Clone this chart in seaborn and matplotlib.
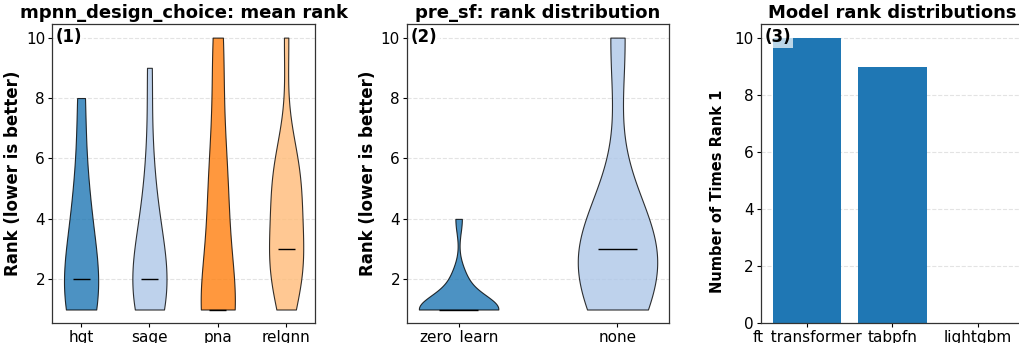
import numpy as np
import pandas as pd
import matplotlib
matplotlib.use("Agg")
import matplotlib.pyplot as plt
import seaborn as sns

# Per-task ranks for each message-passing design choice
mpnn_choices = ["hgt", "sage", "pna", "relgnn"]
ranks_hgt = [1, 1, 2, 2, 2, 4, 5, 8]
ranks_sage = [1, 1, 1, 2, 2, 2, 2, 3, 4, 4, 6, 9]
ranks_pna = [1, 1, 1, 1, 1, 1, 1, 1, 1, 1, 4, 5, 5, 5, 5, 7, 9, 10, 10]
ranks_relgnn = [1, 2, 2, 2, 3, 3, 3, 3, 5, 5, 5, 5, 6, 6, 10]

# Per-task ranks for the pre_sf option
pre_sf_choices = ["zero_learn", "none"]
ranks_zero_learn = [1, 1, 1, 1, 1, 1, 1, 1, 1, 1, 1, 1, 2, 2, 4]
ranks_none = [1, 2, 3, 3, 3, 3, 10]

# How often each tabular model ranked first
models = ["ft_transformer", "tabpfn", "lightgbm"]
rank1_counts = [10, 9, 0]

tab20 = sns.color_palette("tab20")

plt.rcParams.update({
    "font.family": ["DejaVu Sans"],
    "axes.edgecolor": "#333333",
    "axes.linewidth": 0.9,
})

fig = plt.figure(figsize=(10.2, 3.43), dpi=100)
ax1 = fig.add_axes([0.051, 0.058, 0.258, 0.872])
ax2 = fig.add_axes([0.399, 0.058, 0.257, 0.872])
ax3 = fig.add_axes([0.746, 0.058, 0.258, 0.872])

VIOLIN_W = 0.5
TAG_BOX = dict(facecolor="white", alpha=0.7, edgecolor="none", pad=1.5)


def style_axis(ax, ylabel, title, tag, ylabel_size=12):
    ax.set_xlabel("")
    ax.set_ylabel(ylabel, fontsize=ylabel_size, fontweight="bold", labelpad=3)
    ax.set_title(title, fontsize=13, fontweight="bold", pad=4)
    ax.tick_params(labelsize=11, length=3, width=0.8, pad=2)
    ax.yaxis.grid(True, linestyle="--", alpha=0.35)
    ax.set_axisbelow(True)
    ax.text(0.015, 0.985, tag, transform=ax.transAxes, ha="left", va="top",
            fontsize=12, fontweight="bold", bbox=TAG_BOX)


def long_table(names, groups):
    rows = []
    for n, g in zip(names, groups):
        rows += [(n, v) for v in g]
    return pd.DataFrame(rows, columns=["choice", "rank"])


def draw_violins(ax, names, groups, colors, title, tag):
    df = long_table(names, groups)
    sns.violinplot(data=df, x="choice", y="rank", hue="choice", order=names,
                   hue_order=names, palette=colors, legend=False, ax=ax,
                   cut=0, inner=None, density_norm="width", width=VIOLIN_W,
                   saturation=1, linecolor="black", linewidth=0.8, alpha=0.8)
    # short median bars, half the violin width
    med = df.groupby("choice")["rank"].median().reindex(names)
    pos = np.arange(len(names))
    ax.hlines(med.values, pos - VIOLIN_W / 4, pos + VIOLIN_W / 4,
              colors="black", linewidth=1.0, zorder=3)
    span = len(names) - 1 + VIOLIN_W
    pad = 0.05 * span
    ax.set_xlim(-VIOLIN_W / 2 - pad, len(names) - 1 + VIOLIN_W / 2 + pad)
    ax.set_yticks([2, 4, 6, 8, 10])
    style_axis(ax, "Rank (lower is better)", title, tag)


draw_violins(ax1, mpnn_choices,
             [ranks_hgt, ranks_sage, ranks_pna, ranks_relgnn],
             [tab20[0], tab20[1], tab20[2], tab20[3]],
             "mpnn_design_choice: mean rank", "(1)")
draw_violins(ax2, pre_sf_choices, [ranks_zero_learn, ranks_none],
             [tab20[0], tab20[1]], "pre_sf: rank distribution", "(2)")

# Bar chart of first-place counts
bar_df = pd.DataFrame({"model": models, "count": rank1_counts})
sns.barplot(data=bar_df, x="model", y="count", color="#1f77b4",
            saturation=1, width=0.8, ax=ax3)
ax3.set_xlim(-0.4 - 0.14, len(models) - 1 + 0.4 + 0.14)
ax3.set_ylim(0, max(rank1_counts) * 1.05)
style_axis(ax3, "Number of Times Rank 1", "Model rank distributions", "(3)",
           ylabel_size=10.5)
ax3.yaxis.set_label_coords(-0.135, 0.44)

fig.savefig("out.png", dpi=100)
